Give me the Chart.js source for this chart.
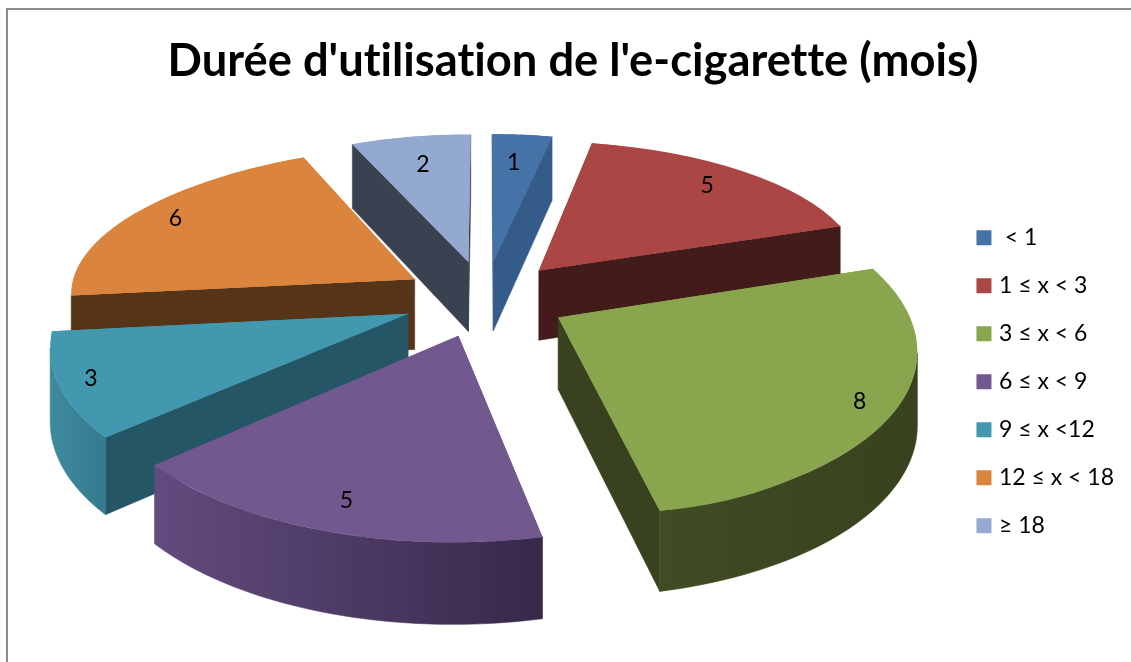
<!DOCTYPE html>
<html><head><meta charset="utf-8">
<style>
html,body{margin:0;padding:0;background:#fff;overflow:hidden}
#frame{position:absolute;left:6px;top:8px;width:1125px;height:654px;box-sizing:border-box;border-left:2px solid #8c8c8c;border-top:2px solid #8c8c8c}
canvas{position:absolute;left:0;top:0}
</style>
<script src="https://cdn.jsdelivr.net/npm/chart.js@4/dist/chart.umd.min.js"></script>
</head><body>
<div id="frame"></div>
<canvas id="c" width="1131" height="662"></canvas>
<script>
const chartTitle = "Durée d'utilisation de l'e-cigarette (mois)";
const categories = [' < 1', '1 ≤ x < 3', '3 ≤ x < 6', '6 ≤ x < 9', '9 ≤ x <12', '12 ≤ x < 18', '≥ 18'];
const values = [1, 5, 8, 5, 3, 6, 2];

const topColors = ['#4572a7', '#aa4643', '#89a54e', '#71588f', '#4198af', '#db843d', '#93a9cf'];
const sideColors = ['#355c89', '#431b1b', '#38421e', '#37294a', '#255665', '#553417', '#3a4252'];
const rimLeft = ['#355c89', '#431b1b', '#3f4c24', '#624b7e', '#3e8a9f', '#553417', '#3a4252'];
const rimRight = ['#355c89', '#431b1b', '#38421e', '#37294a', '#357a8d', '#553417', '#3a4252'];
const paintOrder = [6, 0, 1, 5, 4, 3, 2];
const labelAnchors = [[.43,.356],[.507,.469],[.757,.623],[.496,.506],[.449,.509],[.513,.567],[.4,.398]];

const view = {cx: 485, cy: 298, rx: 345, ry: 159, persp: .1635, explode: .24, depth: 71, depthSlope: .045};

function project(u, v) {
  const s = 1 / (1 - view.persp * v);
  return [view.cx + view.rx * u * s, view.cy + view.ry * v * s];
}
function sliceFrame(el) {
  const a0 = el.startAngle, a1 = el.endAngle, mid = (a0 + a1) / 2;
  const ou = view.explode * Math.cos(mid), ov = view.explode * Math.sin(mid);
  const at = t => project(ou + Math.cos(t), ov + Math.sin(t));
  return {a0, a1, T: project(ou, ov), A: at(a0), B: at(a1), at};
}
const drop = p => [p[0], p[1] + view.depth + (p[1] - view.cy) * view.depthSlope];
function face(ctx, pts, fill) {
  ctx.fillStyle = fill; ctx.strokeStyle = fill; ctx.lineWidth = .6;
  ctx.beginPath();
  pts.forEach((p, k) => k ? ctx.lineTo(p[0], p[1]) : ctx.moveTo(p[0], p[1]));
  pts.slice().reverse().forEach(p => { const q = drop(p); ctx.lineTo(q[0], q[1]); });
  ctx.closePath(); ctx.fill(); ctx.stroke();
}
function drawWalls(ctx, i, fr) {
  const n = 64, rim = [];
  for (let k = 0; k <= n; k++) rim.push(fr.at(fr.a0 + (fr.a1 - fr.a0) * k / n));
  const visible = rim.filter((p, k) => (k < n && rim[k + 1][0] < p[0]) || (k > 0 && p[0] < rim[k - 1][0]));
  if (fr.A[0] < fr.T[0]) face(ctx, [fr.T, fr.A], sideColors[i]);
  if (fr.T[0] < fr.B[0]) face(ctx, [fr.B, fr.T], sideColors[i]);
  if (visible.length > 1) {
    const xs = visible.map(p => p[0]);
    const g = ctx.createLinearGradient(Math.min(...xs), 0, Math.max(...xs), 0);
    g.addColorStop(0, rimLeft[i]); g.addColorStop(1, rimRight[i]);
    face(ctx, visible, g);
  }
}
// Draw the library's arc under the affine map that fits the perspective over the angles s0..s1.
function drawPiece(ctx, el, fr, s0, s1) {
  const r = el.outerRadius, A = fr.at(s0), B = fr.at(s1), T = fr.T;
  const px = r * Math.cos(s0), py = r * Math.sin(s0), qx = r * Math.cos(s1), qy = r * Math.sin(s1);
  const det = px * qy - qx * py;
  const ax = A[0] - T[0], ay = A[1] - T[1], bx = B[0] - T[0], by = B[1] - T[1];
  const a = (ax * qy - bx * py) / det, c = (bx * px - ax * qx) / det;
  const b = (ay * qy - by * py) / det, d = (by * px - ay * qx) / det;
  const piece = Object.create(el);
  piece.startAngle = s0; piece.endAngle = s1; piece.circumference = s1 - s0;
  ctx.save();
  ctx.transform(a, b, c, d, T[0] - a * el.x - c * el.y, T[1] - b * el.x - d * el.y);
  piece.draw(ctx);
  ctx.restore();
}
function drawTop(ctx, el, fr) {
  const step = Math.PI / 30, n = Math.max(1, Math.ceil((fr.a1 - fr.a0) / step));
  const da = (fr.a1 - fr.a0) / n, lap = .01;
  drawPiece(ctx, el, fr, fr.a0, fr.a1);
  for (let k = 0; k < n; k++) {
    const s0 = fr.a0 + k * da;
    drawPiece(ctx, el, fr, s0, s0 + da + (k < n - 1 ? lap : 0));
  }
}
const pie3d = {
  id: 'pie3d',
  beforeDraw(chart) { chart.ctx.textRendering = 'optimizeSpeed'; },
  beforeDatasetDraw(chart) {
    const ctx = chart.ctx, els = chart.getDatasetMeta(0).data;
    paintOrder.forEach(i => {
      const el = els[i], fr = sliceFrame(el);
      drawWalls(ctx, i, fr);
      drawTop(ctx, el, fr);
    });
    ctx.save();
    ctx.fillStyle = '#000';
    ctx.font = '23px Lato';
    ctx.textAlign = 'center';
    ctx.textBaseline = 'middle';
    els.forEach((el, i) => {
      const fr = sliceFrame(el), [al, be] = labelAnchors[i];
      ctx.fillText(String(values[i]),
        fr.T[0] + al * (fr.A[0] - fr.T[0]) + be * (fr.B[0] - fr.T[0]),
        fr.T[1] + al * (fr.A[1] - fr.T[1]) + be * (fr.B[1] - fr.T[1]));
    });
    ctx.restore();
    return false;
  }
};
new Chart(document.getElementById('c'), {
  type: 'pie',
  plugins: [pie3d],
  data: {labels: categories, datasets: [{data: values, backgroundColor: topColors, borderWidth: 0}]},
  options: {
    responsive: false, animation: false,
    layout: {padding: {left: 22, right: 7}},
    plugins: {
      tooltip: {enabled: false},
      title: {display: true, text: chartTitle, color: '#000', font: {family: 'Lato', size: 45.3, weight: 'bold'}, padding: {top: 34, bottom: 13}},
      legend: {position: 'right', fullSize: false, onClick: null, labels: {
        color: '#000', font: {family: 'Lato', size: 23}, boxWidth: 7, boxHeight: 7, padding: 25,
        generateLabels: chart => Chart.overrides.pie.plugins.legend.labels.generateLabels(chart)
          .map(l => ({...l, lineWidth: 8, strokeStyle: l.fillStyle}))
      }}
    }
  }
});
</script>
</body></html>
